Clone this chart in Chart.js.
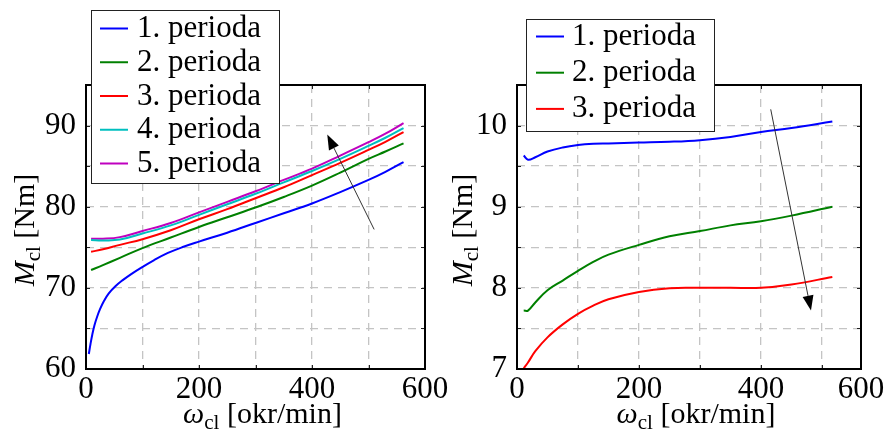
<!DOCTYPE html>
<html><head><meta charset="utf-8">
<script src="https://cdn.jsdelivr.net/npm/chart.js@4/dist/chart.umd.min.js"></script>
<style>
html,body{margin:0;padding:0;background:#fff;}
#wrap{position:relative;width:885px;height:432px;overflow:hidden;background:#fff;}
#c1{position:absolute;left:0;top:0;}
#c2{position:absolute;left:442px;top:0;}
</style></head><body>
<div id="wrap"><canvas id="c1" width="470" height="432"></canvas><canvas id="c2" width="443" height="432"></canvas></div>
<script>
// ---------- data: left chart ----------
const seriesLabelsLeft = ['1. perioda','2. perioda','3. perioda','4. perioda','5. perioda'];
const xLeftBlue = [5,8,11,15,20,25,32,40,52,65,80,98,120,145,170,200,250,300,350,400,450,500,530,562];
const yLeftP1 = [61.85,63.1,64.2,65.4,66.5,67.4,68.4,69.3,70.2,70.95,71.7,72.5,73.4,74.3,75.0,75.7,76.8,78.0,79.2,80.4,81.8,83.3,84.3,85.5];
const xLeft = [9,30,60,100,150,200,250,300,350,400,450,500,530,562];
const yLeftP2 = [72.2,72.8,73.7,74.9,76.2,77.5,78.7,79.9,81.2,82.6,84.2,85.9,86.8,87.8];
const yLeftP3 = [74.45,74.75,75.3,76.0,77.1,78.45,79.7,81.05,82.4,83.9,85.4,87.0,88.0,89.2];
const yLeftP4 = [75.9,75.85,75.95,76.7,77.7,79.0,80.3,81.6,83.0,84.4,85.9,87.5,88.5,89.7];
const yLeftP5 = [76.05,76.05,76.25,77.0,78.0,79.3,80.6,81.9,83.3,84.7,86.3,87.95,89.0,90.3];
const xTicksLeft = [0,100,200,300,400,500,600];
const yRangeLeft = [60,95];
const arrowLeft = [[510,77.2],[427,88.9]]; // tail, tip (data units)

// ---------- data: right chart ----------
const seriesLabelsRight = ['1. perioda','2. perioda','3. perioda'];
const xRight = [11,18,30,50,75,100,125,150,200,250,300,350,400,450,517];
const yRightP1 = [9.63,9.58,9.61,9.68,9.73,9.76,9.775,9.78,9.79,9.80,9.82,9.86,9.92,9.97,10.05];
const yRightP2 = [7.72,7.72,7.82,7.97,8.09,8.21,8.32,8.41,8.53,8.635,8.70,8.77,8.82,8.89,9.00];
const yRightP3 = [7.01,7.08,7.22,7.39,7.55,7.68,7.78,7.86,7.95,7.995,8.0,8.0,8.0,8.04,8.135];
const xTicksRight = [0,100,200,300,400,500];
const xMaxRight = 564;
const xMaxRightLabel = '600';
const yRangeRight = [7,10.5];
const arrowRight = [[416,10.2],[482,7.72]];

const COLORS = ['#0000ff','#008000','#ff0000','#00bfbf','#bf00bf'];
const FONT = '"Liberation Serif","Times New Roman",serif';

const deco = {
  id: 'deco',
  afterDraw(chart, args, o) {
    const ctx = chart.ctx, a = chart.chartArea, xs = chart.scales.x, ys = chart.scales.y;
    ctx.save();
    // inner tick marks
    ctx.strokeStyle = '#222'; ctx.lineWidth = 1;
    xs.ticks.forEach(t => {
      if (t.value <= xs.min || t.value >= xs.max) return;
      const px = Math.round(xs.getPixelForValue(t.value)) + 0.5;
      ctx.beginPath(); ctx.moveTo(px, a.bottom); ctx.lineTo(px, a.bottom - 4);
      ctx.moveTo(px, a.top); ctx.lineTo(px, a.top + 4); ctx.stroke();
    });
    ys.ticks.forEach(t => {
      if (t.value <= ys.min || t.value >= ys.max) return;
      const py = Math.round(ys.getPixelForValue(t.value)) + 0.5;
      ctx.beginPath(); ctx.moveTo(a.left, py); ctx.lineTo(a.left + 4, py);
      ctx.moveTo(a.right, py); ctx.lineTo(a.right - 4, py); ctx.stroke();
    });
    // frame
    ctx.strokeStyle = '#000'; ctx.lineWidth = 2;
    ctx.strokeRect(a.left, a.top, a.right - a.left, a.bottom - a.top);
    // arrow
    const [t0, t1] = o.arrow;
    const x0 = xs.getPixelForValue(t0[0]), y0 = ys.getPixelForValue(t0[1]);
    const x1 = xs.getPixelForValue(t1[0]), y1 = ys.getPixelForValue(t1[1]);
    const ang = Math.atan2(y1 - y0, x1 - x0), hl = 15, hw = 5.5;
    const bx = x1 - hl * Math.cos(ang), by = y1 - hl * Math.sin(ang);
    ctx.strokeStyle = '#333'; ctx.lineWidth = 1;
    ctx.beginPath(); ctx.moveTo(x0, y0); ctx.lineTo(bx, by); ctx.stroke();
    ctx.fillStyle = '#000';
    ctx.beginPath(); ctx.moveTo(x1, y1);
    ctx.lineTo(bx + hw * Math.sin(ang), by - hw * Math.cos(ang));
    ctx.lineTo(bx - hw * Math.sin(ang), by + hw * Math.cos(ang));
    ctx.closePath(); ctx.fill();
    // legend
    const L = o.legend;
    ctx.fillStyle = '#fff'; ctx.fillRect(L.box[0], L.box[1], L.box[2] - L.box[0], L.box[3] - L.box[1]);
    ctx.strokeStyle = '#222'; ctx.lineWidth = 1;
    ctx.strokeRect(L.box[0] + 0.5, L.box[1] + 0.5, L.box[2] - L.box[0], L.box[3] - L.box[1]);
    ctx.font = '31px ' + FONT; ctx.textBaseline = 'alphabetic'; ctx.textAlign = 'left';
    chart.data.datasets.forEach((d, i) => {
      const bl = L.base + i * L.step;
      ctx.strokeStyle = d.borderColor; ctx.lineWidth = 2;
      ctx.beginPath(); ctx.moveTo(L.lx0, bl - 8.5); ctx.lineTo(L.lx1, bl - 8.5); ctx.stroke();
      ctx.fillStyle = '#000'; ctx.fillText(d.label, L.tx, bl);
    });
    // x title: ω_cl [okr/min]
    const cx = (a.left + a.right) / 2 + 7;
    const f1 = 'italic 30px ' + FONT, f2 = '21px ' + FONT, f3 = '30px ' + FONT;
    ctx.fillStyle = '#000';
    ctx.font = f1; const w1 = ctx.measureText('ω').width;
    ctx.font = f2; const w2 = ctx.measureText('cl').width;
    ctx.font = f3; const w3 = ctx.measureText(' [okr/min]').width;
    let sx = cx - (w1 + w2 + w3) / 2; const by0 = o.xTitleY;
    ctx.font = f1; ctx.fillText('ω', sx, by0); sx += w1;
    ctx.font = f2; ctx.fillText('cl', sx, by0 + 6); sx += w2;
    ctx.font = f3; ctx.fillText(' [okr/min]', sx, by0);
    // y title: M_cl [Nm]
    ctx.save();
    ctx.translate(o.yTitleX, (a.top + a.bottom) / 2 + 3);
    ctx.rotate(-Math.PI / 2);
    ctx.font = f1; const m1 = ctx.measureText('M').width;
    ctx.font = f2; const m2 = ctx.measureText('cl').width;
    ctx.font = f3; const m3 = ctx.measureText(' [Nm]').width;
    let sy = -(m1 + m2 + m3) / 2;
    ctx.font = f1; ctx.fillText('M', sy, 0); sy += m1;
    ctx.font = f2; ctx.fillText('cl', sy, 6); sy += m2;
    ctx.font = f3; ctx.fillText(' [Nm]', sy, 0);
    ctx.restore();
    ctx.restore();
  }
};

function makeChart(el, o) {
  const gridColor = (min, max) => c => (c.tick && (c.tick.value <= min || c.tick.value >= max)) ? 'rgba(0,0,0,0)' : '#c4c4c4';
  return new Chart(el, {
    type: 'line',
    data: { datasets: o.series.map((s, i) => ({
      label: s.label, data: s.x.map((x, j) => ({x: x, y: s.y[j]})),
      borderColor: COLORS[i], borderWidth: 2, pointRadius: 0, fill: false,
      tension: 0.4
    })) },
    options: {
      responsive: false, animation: false, devicePixelRatio: 1,
      layout: { padding: { left: 0, right: o.padRight, top: o.padTop, bottom: 0 } },
      plugins: { legend: { display: false }, tooltip: { enabled: false }, deco: o },
      scales: {
        x: {
          type: 'linear', min: 0, max: o.xMax,
          afterBuildTicks: s => { s.ticks = o.xTicks.concat(o.xTicks.includes(o.xMax) ? [] : [o.xMax]).map(v => ({value: v})); },
          afterFit: s => { s.height = o.xAxisH; s.paddingLeft = 0; s.paddingRight = 0; },
          ticks: { autoSkip: false, maxRotation: 0, padding: 2, color: '#000', font: { family: FONT, size: 31 }, callback: o.xLabel },
          grid: { drawTicks: false, color: gridColor(0, o.xMax), lineWidth: 1.3 },
          border: { display: false, dash: [8, 6] }
        },
        y: {
          type: 'linear', min: o.yRange[0], max: o.yRange[1],
          afterFit: s => { s.width = o.yAxisW; s.paddingTop = 0; s.paddingBottom = 0; },
          ticks: { stepSize: o.yStep, autoSkip: false, padding: 10, color: '#000', font: { family: FONT, size: 31 }, callback: o.yLabel },
          grid: { drawTicks: false, color: gridColor(o.yRange[0], o.yRange[1]), lineWidth: 1.3 },
          border: { display: false, dash: [8, 6] }
        }
      }
    },
    plugins: [deco]
  });
}

makeChart(document.getElementById('c1'), {
  series: [
    {label: seriesLabelsLeft[0], x: xLeftBlue, y: yLeftP1},
    {label: seriesLabelsLeft[1], x: xLeft, y: yLeftP2},
    {label: seriesLabelsLeft[2], x: xLeft, y: yLeftP3},
    {label: seriesLabelsLeft[3], x: xLeft, y: yLeftP4},
    {label: seriesLabelsLeft[4], x: xLeft, y: yLeftP5}
  ],
  xMax: 600, xTicks: xTicksLeft,
  xLabel: v => (v % 200 === 0 ? String(v) : ''),
  yRange: yRangeLeft, yStep: 5,
  yLabel: v => (v % 10 === 0 && v <= 90 ? String(v) : ''),
  padRight: 470 - 425, padTop: 85, xAxisH: 432 - 369, yAxisW: 86,
  arrow: arrowLeft,
  legend: { box: [91, 10, 279, 183], lx0: 100, lx1: 128, tx: 137, base: 37, step: 33.75 },
  xTitleY: 423, yTitleX: 34
});

makeChart(document.getElementById('c2'), {
  series: [
    {label: seriesLabelsRight[0], x: xRight, y: yRightP1},
    {label: seriesLabelsRight[1], x: xRight, y: yRightP2},
    {label: seriesLabelsRight[2], x: xRight, y: yRightP3}
  ],
  xMax: xMaxRight, xTicks: xTicksRight,
  xLabel: v => (v === xMaxRight ? xMaxRightLabel : (v % 200 === 0 ? String(v) : '')),
  yRange: yRangeRight, yStep: 0.5,
  yLabel: v => (Number.isInteger(v) && v <= 10 ? String(v) : ''),
  padRight: 443 - 419, padTop: 85, xAxisH: 432 - 369, yAxisW: 75,
  arrow: arrowRight,
  legend: { box: [84, 19, 272, 131], lx0: 94, lx1: 122, tx: 130, base: 45, step: 36.2 },
  xTitleY: 423, yTitleX: 30
});
</script>
</body></html>
